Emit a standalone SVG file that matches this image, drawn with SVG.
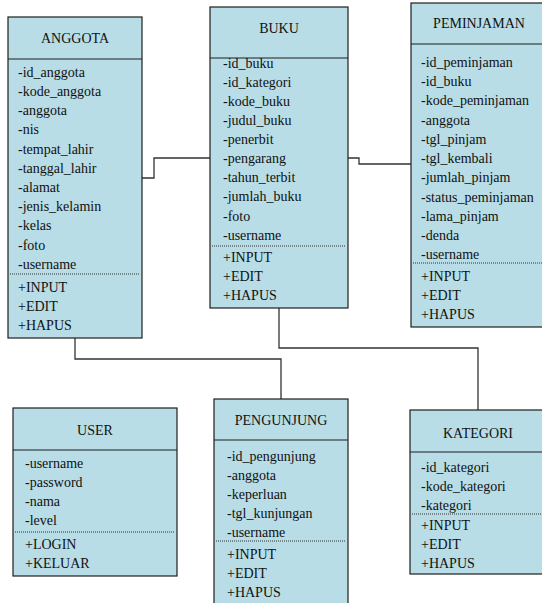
<svg xmlns="http://www.w3.org/2000/svg" width="542" height="603" viewBox="0 0 542 603" font-family="'Liberation Serif', 'Times New Roman', Tinos, 'DejaVu Serif', serif" font-size="14">
<style>
.box{fill:#b8dde7;stroke:#1e1e1e;stroke-width:1.2}
.hd{stroke:#1e1e1e;stroke-width:1.2}
.dot{stroke:#333;stroke-width:1;stroke-dasharray:1 1}
.conn{fill:none;stroke:#333;stroke-width:1.3}
text{fill:#111}
.t{text-anchor:middle}
</style>
<rect width="542" height="603" fill="#fff"/>
<g id="connectors">
<path class="conn" d="M142,178 H154 V158 H210"/>
<path class="conn" d="M348,158 H359 V164 H411"/>
<path class="conn" d="M279,308 V348 H478 V410"/>
<path class="conn" d="M75,338 V359 H281 V399"/>
</g>
<g id="anggota">
<rect class="box" x="8" y="17" width="134" height="321"/>
<line class="hd" x1="8" y1="59" x2="142" y2="59"/>
<line class="dot" x1="10" y1="274" x2="140" y2="274"/>
<text class="t" x="75" y="43">ANGGOTA</text>
<text x="18" y="77">-id_anggota</text>
<text x="18" y="96">-kode_anggota</text>
<text x="18" y="115">-anggota</text>
<text x="18" y="134">-nis</text>
<text x="18" y="154">-tempat_lahir</text>
<text x="18" y="173">-tanggal_lahir</text>
<text x="18" y="192">-alamat</text>
<text x="18" y="211">-jenis_kelamin</text>
<text x="18" y="230">-kelas</text>
<text x="18" y="250">-foto</text>
<text x="18" y="269">-username</text>
<text x="18" y="292">+INPUT</text>
<text x="18" y="311">+EDIT</text>
<text x="18" y="330">+HAPUS</text>
</g>
<g id="buku">
<rect class="box" x="210" y="7" width="138" height="301"/>
<line class="hd" x1="210" y1="58" x2="348" y2="58"/>
<line class="dot" x1="212" y1="246" x2="346" y2="246"/>
<text class="t" x="279" y="33">BUKU</text>
<text x="223" y="68">-id_buku</text>
<text x="223" y="87">-id_kategori</text>
<text x="223" y="106">-kode_buku</text>
<text x="223" y="125">-judul_buku</text>
<text x="223" y="144">-penerbit</text>
<text x="223" y="163">-pengarang</text>
<text x="223" y="182">-tahun_terbit</text>
<text x="223" y="201">-jumlah_buku</text>
<text x="223" y="221">-foto</text>
<text x="223" y="240">-username</text>
<text x="223" y="262">+INPUT</text>
<text x="223" y="281">+EDIT</text>
<text x="223" y="300">+HAPUS</text>
</g>
<g id="peminjaman">
<rect class="box" x="411" y="3" width="138" height="324"/>
<line class="hd" x1="411" y1="44" x2="549" y2="44"/>
<line class="dot" x1="413" y1="263" x2="549" y2="263"/>
<text class="t" x="479" y="28">PEMINJAMAN</text>
<text x="421" y="67">-id_peminjaman</text>
<text x="421" y="86">-id_buku</text>
<text x="421" y="105">-kode_peminjaman</text>
<text x="421" y="125">-anggota</text>
<text x="421" y="144">-tgl_pinjam</text>
<text x="421" y="163">-tgl_kembali</text>
<text x="421" y="182">-jumlah_pinjam</text>
<text x="421" y="202">-status_peminjaman</text>
<text x="421" y="221">-lama_pinjam</text>
<text x="421" y="240">-denda</text>
<text x="421" y="259">-username</text>
<text x="421" y="281">+INPUT</text>
<text x="421" y="300">+EDIT</text>
<text x="421" y="319">+HAPUS</text>
</g>
<g id="user">
<rect class="box" x="13" y="408" width="164" height="168"/>
<line class="hd" x1="13" y1="450" x2="177" y2="450"/>
<line class="dot" x1="15" y1="532" x2="175" y2="532"/>
<text class="t" x="95" y="435">USER</text>
<text x="25" y="468">-username</text>
<text x="25" y="487">-password</text>
<text x="25" y="506">-nama</text>
<text x="25" y="525">-level</text>
<text x="25" y="549">+LOGIN</text>
<text x="25" y="568">+KELUAR</text>
</g>
<g id="pengunjung">
<rect class="box" x="214" y="399" width="134" height="215"/>
<line class="hd" x1="214" y1="440" x2="348" y2="440"/>
<line class="dot" x1="216" y1="541" x2="346" y2="541"/>
<text class="t" x="281" y="425">PENGUNJUNG</text>
<text x="227" y="461">-id_pengunjung</text>
<text x="227" y="480">-anggota</text>
<text x="227" y="499">-keperluan</text>
<text x="227" y="518">-tgl_kunjungan</text>
<text x="227" y="537">-username</text>
<text x="227" y="559">+INPUT</text>
<text x="227" y="578">+EDIT</text>
<text x="227" y="597">+HAPUS</text>
</g>
<g id="kategori">
<rect class="box" x="410" y="410" width="139" height="164"/>
<line class="hd" x1="410" y1="452" x2="549" y2="452"/>
<line class="dot" x1="412" y1="514" x2="549" y2="514"/>
<text class="t" x="478" y="438">KATEGORI</text>
<text x="421" y="472">-id_kategori</text>
<text x="421" y="491">-kode_kategori</text>
<text x="421" y="510">-kategori</text>
<text x="421" y="530">+INPUT</text>
<text x="421" y="549">+EDIT</text>
<text x="421" y="568">+HAPUS</text>
</g>
</svg>
